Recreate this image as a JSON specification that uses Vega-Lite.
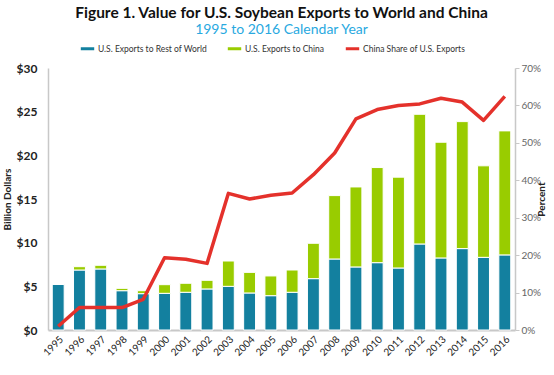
{
  "$schema": "https://vega.github.io/schema/vega-lite/v6.json",
  "width": 467,
  "height": 262,
  "autosize": {"type": "none"},
  "padding": {"left": 48, "top": 68, "right": 39, "bottom": 45},
  "background": "white",
  "config": {"view": {"stroke": null}, "font": "Lato"},
  "title": {
    "text": "Figure 1. Value for U.S. Soybean Exports to World and China",
    "subtitle": "1995 to 2016 Calendar Year",
    "anchor": "middle",
    "fontSize": 15.5,
    "fontWeight": "bold",
    "color": "#111111",
    "subtitleFontSize": 14,
    "subtitleColor": "#29A9DF",
    "subtitlePadding": 2,
    "offset": 3
  },
  "datasets": {
    "bars": [
      {"year": "1995", "series": "U.S. Exports to Rest of World", "value": 5.23},
      {"year": "1995", "series": "U.S. Exports to China", "value": 0.0},
      {"year": "1996", "series": "U.S. Exports to Rest of World", "value": 6.87},
      {"year": "1996", "series": "U.S. Exports to China", "value": 0.38},
      {"year": "1997", "series": "U.S. Exports to Rest of World", "value": 6.99},
      {"year": "1997", "series": "U.S. Exports to China", "value": 0.42},
      {"year": "1998", "series": "U.S. Exports to Rest of World", "value": 4.5},
      {"year": "1998", "series": "U.S. Exports to China", "value": 0.27},
      {"year": "1999", "series": "U.S. Exports to Rest of World", "value": 4.16},
      {"year": "1999", "series": "U.S. Exports to China", "value": 0.34},
      {"year": "2000", "series": "U.S. Exports to Rest of World", "value": 4.2},
      {"year": "2000", "series": "U.S. Exports to China", "value": 0.99},
      {"year": "2001", "series": "U.S. Exports to Rest of World", "value": 4.32},
      {"year": "2001", "series": "U.S. Exports to China", "value": 1.03},
      {"year": "2002", "series": "U.S. Exports to Rest of World", "value": 4.7},
      {"year": "2002", "series": "U.S. Exports to China", "value": 0.99},
      {"year": "2003", "series": "U.S. Exports to Rest of World", "value": 5.0},
      {"year": "2003", "series": "U.S. Exports to China", "value": 2.9},
      {"year": "2004", "series": "U.S. Exports to Rest of World", "value": 4.24},
      {"year": "2004", "series": "U.S. Exports to China", "value": 2.36},
      {"year": "2005", "series": "U.S. Exports to Rest of World", "value": 3.93},
      {"year": "2005", "series": "U.S. Exports to China", "value": 2.26},
      {"year": "2006", "series": "U.S. Exports to Rest of World", "value": 4.32},
      {"year": "2006", "series": "U.S. Exports to China", "value": 2.55},
      {"year": "2007", "series": "U.S. Exports to Rest of World", "value": 5.88},
      {"year": "2007", "series": "U.S. Exports to China", "value": 4.05},
      {"year": "2008", "series": "U.S. Exports to Rest of World", "value": 8.13},
      {"year": "2008", "series": "U.S. Exports to China", "value": 7.26},
      {"year": "2009", "series": "U.S. Exports to Rest of World", "value": 7.22},
      {"year": "2009", "series": "U.S. Exports to China", "value": 9.16},
      {"year": "2010", "series": "U.S. Exports to Rest of World", "value": 7.71},
      {"year": "2010", "series": "U.S. Exports to China", "value": 10.89},
      {"year": "2011", "series": "U.S. Exports to Rest of World", "value": 7.1},
      {"year": "2011", "series": "U.S. Exports to China", "value": 10.4},
      {"year": "2012", "series": "U.S. Exports to Rest of World", "value": 9.85},
      {"year": "2012", "series": "U.S. Exports to China", "value": 14.85},
      {"year": "2013", "series": "U.S. Exports to Rest of World", "value": 8.25},
      {"year": "2013", "series": "U.S. Exports to China", "value": 13.25},
      {"year": "2014", "series": "U.S. Exports to Rest of World", "value": 9.32},
      {"year": "2014", "series": "U.S. Exports to China", "value": 14.54},
      {"year": "2015", "series": "U.S. Exports to Rest of World", "value": 8.32},
      {"year": "2015", "series": "U.S. Exports to China", "value": 10.48},
      {"year": "2016", "series": "U.S. Exports to Rest of World", "value": 8.6},
      {"year": "2016", "series": "U.S. Exports to China", "value": 14.2}
    ],
    "share": [
      {"year": "1995", "share": 0.01},
      {"year": "1996", "share": 0.06},
      {"year": "1997", "share": 0.06},
      {"year": "1998", "share": 0.06},
      {"year": "1999", "share": 0.082},
      {"year": "2000", "share": 0.193},
      {"year": "2001", "share": 0.189},
      {"year": "2002", "share": 0.178},
      {"year": "2003", "share": 0.365},
      {"year": "2004", "share": 0.35},
      {"year": "2005", "share": 0.36},
      {"year": "2006", "share": 0.366},
      {"year": "2007", "share": 0.415},
      {"year": "2008", "share": 0.473},
      {"year": "2009", "share": 0.564},
      {"year": "2010", "share": 0.589},
      {"year": "2011", "share": 0.6},
      {"year": "2012", "share": 0.604},
      {"year": "2013", "share": 0.619},
      {"year": "2014", "share": 0.609},
      {"year": "2015", "share": 0.56},
      {"year": "2016", "share": 0.624}
    ]
  },
  "encoding": {
    "x": {
      "field": "year",
      "type": "ordinal",
      "scale": {"paddingInner": 0.44, "paddingOuter": 0.2},
      "axis": {
        "title": null,
        "labelAngle": -45,
        "labelFontSize": 10,
        "labelColor": "#222222",
        "labelPadding": 4,
        "ticks": false,
        "domainColor": "#c8c8c8",
        "domainWidth": 2
      }
    }
  },
  "layer": [
    {
      "data": {"name": "bars"},
      "mark": {"type": "bar", "stroke": "white", "strokeWidth": 1},
      "encoding": {
        "y": {
          "field": "value",
          "type": "quantitative",
          "stack": "zero",
          "scale": {"domain": [0, 30]},
          "axis": {
            "title": "Billion Dollars",
            "titleFontSize": 10,
            "titleFontWeight": "bold",
            "titleColor": "#222222",
            "titlePadding": 4,
            "values": [0, 5, 10, 15, 20, 25, 30],
            "format": "$.0f",
            "labelFontSize": 12,
            "labelFontWeight": "bold",
            "labelColor": "#222222",
            "labelPadding": 11,
            "ticks": false,
            "grid": false,
            "domainColor": "#c8c8c8",
            "domainWidth": 1.5
          }
        },
        "color": {
          "field": "series",
          "type": "nominal",
          "scale": {
            "domain": ["U.S. Exports to Rest of World", "U.S. Exports to China", "China Share of U.S. Exports"],
            "range": ["#13809F", "#99CC00", "#E4312B"]
          },
          "legend": {
            "title": null,
            "orient": "none",
            "legendX": 31,
            "legendY": -28,
            "direction": "horizontal",
            "symbolType": "stroke",
            "symbolStrokeWidth": 3,
            "symbolSize": 180,
            "labelFontSize": 8.5,
            "labelColor": "#333333",
            "labelOffset": 2,
            "columnPadding": 14
          }
        },
        "order": {"field": "series", "sort": "descending"}
      }
    },
    {
      "data": {"name": "share"},
      "mark": {"type": "line", "strokeWidth": 3.5, "strokeJoin": "round"},
      "encoding": {
        "y": {
          "field": "share",
          "type": "quantitative",
          "scale": {"domain": [0, 0.7]},
          "axis": {
            "orient": "right",
            "title": "Percent",
            "titleAngle": 270,
            "titleFontSize": 10,
            "titleFontWeight": "bold",
            "titleColor": "#222222",
            "titlePadding": 6,
            "values": [0, 0.1, 0.2, 0.3, 0.4, 0.5, 0.6, 0.7],
            "format": ".0%",
            "labelFontSize": 10,
            "labelColor": "#666666",
            "labelPadding": 2,
            "tickSize": 4,
            "tickColor": "#c8c8c8",
            "grid": false,
            "domainColor": "#c8c8c8",
            "domainWidth": 1.5
          }
        },
        "color": {"datum": "China Share of U.S. Exports"}
      }
    }
  ],
  "resolve": {"scale": {"y": "independent"}}
}
